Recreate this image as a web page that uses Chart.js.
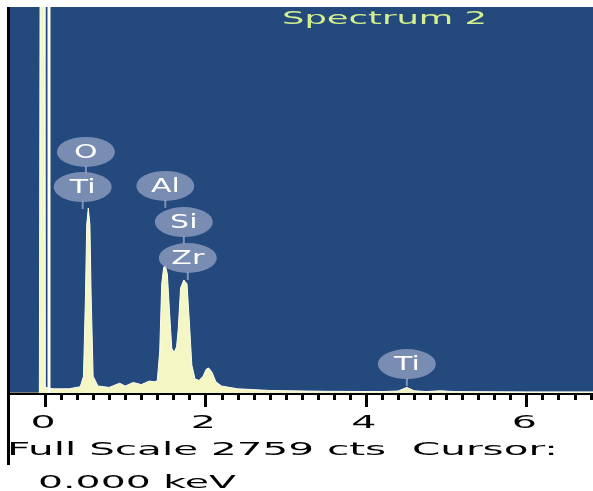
<!DOCTYPE html>
<html>
<head>
<meta charset="utf-8">
<script src="https://cdn.jsdelivr.net/npm/chart.js@4.4.0/dist/chart.umd.min.js"></script>
<style>
  body { margin: 0; background: #fff; }
  #chartContainer { width: 593px; height: 491px; }
</style>
</head>
<body>
<div id="chartContainer"><canvas id="myChart" width="593" height="491"></canvas></div>
<script>
// spectrum: energy (keV) and counts
const energyKeV = [-0.436, -0.07, -0.06, -0.01, 0.00, 0.10, 0.30, 0.44, 0.48, 0.505, 0.52, 0.54, 0.56, 0.575, 0.60, 0.66,
  0.80, 0.93, 1.00, 1.10, 1.20, 1.30, 1.37, 1.40, 1.43, 1.455, 1.48, 1.50, 1.525, 1.55, 1.58, 1.61, 1.64, 1.66, 1.69,
  1.73, 1.77, 1.80, 1.83, 1.87, 1.92, 1.97, 2.01, 2.04, 2.08, 2.13, 2.20, 2.40, 2.80, 3.50, 4.20, 4.40, 4.51, 4.60,
  4.75, 4.93, 5.10, 6.00, 6.83];
const counts = [0, 0, 3200, 3200, 40, 30, 30, 45, 120, 700, 1200, 1322, 1200, 700, 120, 50,
  40, 70, 50, 75, 60, 85, 80, 90, 300, 780, 900, 910, 850, 600, 320, 290, 330, 450, 750,
  808, 780, 500, 200, 100, 90, 120, 170, 179, 150, 80, 50, 30, 18, 12, 10, 14, 40, 16,
  10, 16, 10, 8, 8];

// peak labels (keV, counts where the bubble sits)
const labelText = ['O', 'Ti', 'Al', 'Si', 'Zr', 'Ti'];
const labelKeV = [0.51, 0.47, 1.50, 1.73, 1.78, 4.51];
const labelCts = [1723, 1472, 1480, 1222, 965, 207];

// axis
const majorTicks = [0, 2, 4, 6];
const tickLabels = ['0', '2', '4', '6'];
const minorStep = 0.2;
const fullScale = 2759;
const cursorKeV = 0.05;

const titleText = 'Spectrum 2';
const footerLine1 = 'Full Scale 2759 cts  Cursor:';
const footerLine2 = '0.000 keV';

// draw text stretched to a given width
function drawWide(c, text, x, y, width) {
    const w = c.measureText(text).width;
    c.save();
    c.translate(x, y);
    c.scale(width / w, 1);
    c.textAlign = 'left';
    c.fillText(text, 0, 0);
    c.restore();
}

// draw text centered, stretched by a factor
function drawScaled(c, text, cx, y, sx) {
    const w = c.measureText(text).width * sx;
    c.save();
    c.translate(cx - w / 2, y);
    c.scale(sx, 1);
    c.textAlign = 'left';
    c.fillText(text, 0, 0);
    c.restore();
}

const spectrumPlugin = {
    id: 'spectrumPlugin',
    beforeDraw(chart) {
        const c = chart.ctx, a = chart.chartArea;
        c.save();
        c.fillStyle = '#ffffff';
        c.fillRect(0, 0, chart.width, chart.height);
        c.fillStyle = '#24497d';
        c.fillRect(a.left, a.top, a.right - a.left, a.bottom - a.top);
        c.restore();
    },
    afterDatasetsDraw(chart) {
        const c = chart.ctx, a = chart.chartArea;
        const xs = chart.scales.x, ys = chart.scales.y;
        c.save();
        // cursor line
        const cx = xs.getPixelForValue(cursorKeV);
        c.strokeStyle = '#ffffff';
        c.lineWidth = 3;
        c.beginPath();
        c.moveTo(cx, a.top);
        c.lineTo(cx, a.bottom);
        c.stroke();

        // label bubbles
        c.font = '20px "DejaVu Sans"';
        c.textBaseline = 'middle';
        for (let i = 0; i < labelText.length; i++) {
            const x = xs.getPixelForValue(labelKeV[i]);
            const y = ys.getPixelForValue(labelCts[i]);
            c.strokeStyle = 'rgba(150,165,200,0.8)';
            c.lineWidth = 2;
            c.beginPath();
            c.moveTo(x, y + 14);
            c.lineTo(x, y + 22);
            c.stroke();
            c.fillStyle = 'rgba(145,160,195,0.78)';
            c.beginPath();
            c.ellipse(x, y, 29, 15, 0, 0, Math.PI * 2);
            c.fill();
            c.fillStyle = '#ffffff';
            drawScaled(c, labelText[i], x, y + 1, 1.5);
        }
        c.restore();
    },
    afterDraw(chart) {
        const c = chart.ctx, a = chart.chartArea;
        const xs = chart.scales.x;
        c.save();
        c.fillStyle = '#000000';

        // minor and major ticks
        for (let v = minorStep; v <= xs.max + 1e-6; v += minorStep) {
            const px = Math.round(xs.getPixelForValue(v));
            c.fillRect(px - 1, a.bottom + 1, 3, 6);
        }
        majorTicks.forEach((v) => {
            const px = Math.round(xs.getPixelForValue(v));
            c.fillRect(px - 1, a.bottom + 1, 3, 13);
        });

        // tick labels
        c.font = '18px "DejaVu Sans"';
        c.textBaseline = 'alphabetic';
        majorTicks.forEach((v, i) => {
            drawScaled(c, tickLabels[i], xs.getPixelForValue(v) - 2, 428, 2.2);
        });

        // footer
        drawWide(c, footerLine1, 7, 455, 551);
        drawWide(c, footerLine2, 38, 488, 198);

        // left frame line
        c.fillRect(7, a.top, 3, 458);

        // title
        c.fillStyle = '#d4f08e';
        drawWide(c, titleText, 282, 24, 205);
        c.restore();
    }
};

const ctx = document.getElementById('myChart').getContext('2d');
const spectrumChart = new Chart(ctx, {
    type: 'line',
    data: {
        datasets: [{
            label: titleText,
            data: energyKeV.map((e, i) => ({ x: e, y: counts[i] })),
            fill: 'origin',
            backgroundColor: 'rgb(244,247,196)',
            borderColor: 'rgb(255,255,240)',
            borderWidth: 1,
            pointRadius: 0,
            tension: 0
        }]
    },
    options: {
        responsive: false,
        animation: false,
        devicePixelRatio: 1,
        layout: { padding: { left: 10, right: 0, top: 7, bottom: 0 } },
        plugins: { legend: { display: false }, tooltip: { enabled: false } },
        scales: {
            x: {
                type: 'linear',
                min: -0.436,
                max: 6.83,
                grid: { display: false },
                ticks: { display: false },
                border: { display: true, color: '#000000', width: 3 },
                afterFit: (scale) => { scale.height = 98; }
            },
            y: { display: false, min: 0, max: fullScale }
        }
    },
    plugins: [spectrumPlugin]
});
</script>
</body>
</html>
